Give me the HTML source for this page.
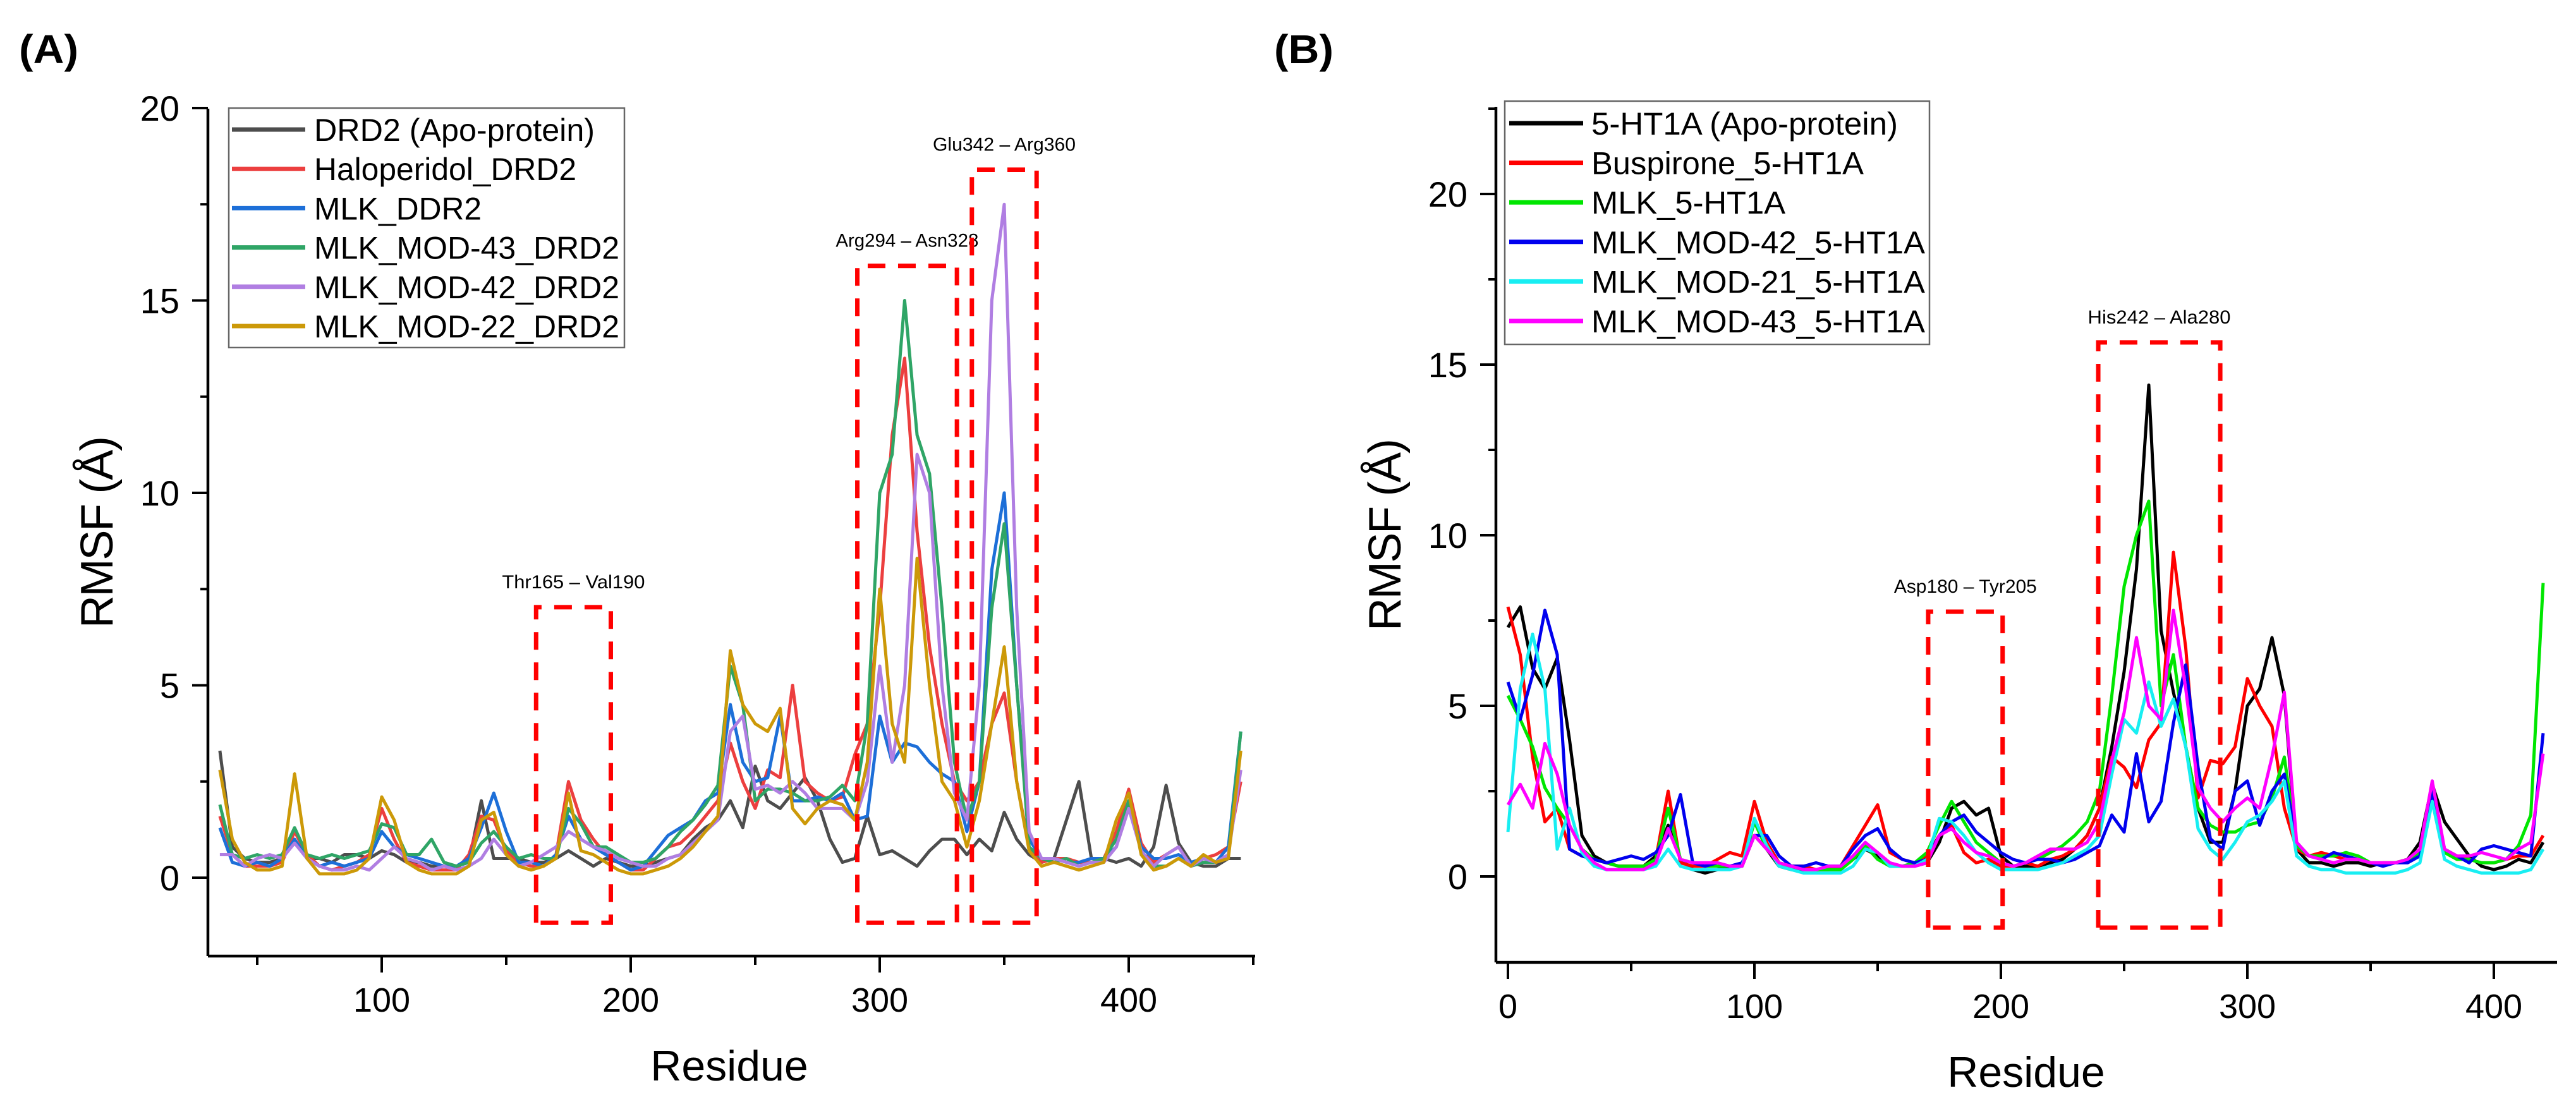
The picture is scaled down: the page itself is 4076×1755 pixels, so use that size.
<!DOCTYPE html>
<html><head><meta charset="utf-8"><title>RMSF plots</title>
<style>
html,body{margin:0;padding:0;background:#fff;}
svg{display:block;font-family:"Liberation Sans",Arial,sans-serif;}
</style></head>
<body>
<svg id="fig" width="4076" height="1755" viewBox="0 0 4076 1755" xmlns="http://www.w3.org/2000/svg">
<rect x="0" y="0" width="4076" height="1755" fill="#fff"/>
<text x="30" y="100" font-size="64" font-weight="bold" textLength="94" lengthAdjust="spacingAndGlyphs">(A)</text>
<text x="2016" y="100" font-size="64" font-weight="bold" textLength="94" lengthAdjust="spacingAndGlyphs">(B)</text>
<g id="gA"></g>
<g id="gB"></g>
</svg>
<script>
// ---------- Panel A data (DRD2) ----------
const resA = [35,40,45,50,55,60,65,70,75,80,85,90,95,100,105,110,115,120,125,130,135,140,145,150,155,160,165,170,175,180,185,190,195,200,205,210,215,220,225,230,235,240,245,250,255,260,265,270,275,280,285,290,295,300,305,310,315,320,325,330,335,340,345,350,355,360,365,370,375,380,385,390,395,400,405,410,415,420,425,430,435,440,445];
const apoDRD2 = [3.3,0.8,0.5,0.4,0.4,0.5,1.0,0.5,0.5,0.4,0.6,0.6,0.5,0.7,0.6,0.4,0.4,0.3,0.3,0.3,0.4,2.0,0.5,0.5,0.5,0.4,0.4,0.5,0.7,0.5,0.3,0.5,0.4,0.3,0.3,0.4,0.5,0.6,1.0,1.3,1.5,2.0,1.3,2.9,2.0,1.8,2.2,2.6,2.0,1.0,0.4,0.5,1.6,0.6,0.7,0.5,0.3,0.7,1.0,1.0,0.6,1.0,0.7,1.7,1.0,0.6,0.4,0.5,1.5,2.5,0.5,0.5,0.4,0.5,0.3,0.8,2.4,0.9,0.4,0.3,0.3,0.5,0.5];
const haloDRD2 = [1.6,0.6,0.3,0.3,0.3,0.4,1.2,0.6,0.3,0.2,0.3,0.4,0.6,1.8,1.0,0.4,0.3,0.2,0.2,0.2,0.6,1.6,1.5,0.7,0.4,0.3,0.3,0.6,2.5,1.5,1.0,0.6,0.4,0.2,0.2,0.5,0.8,0.9,1.2,1.6,2.0,3.5,2.5,1.8,2.8,2.6,5.0,2.5,2.2,2.0,2.1,3.2,4.0,7.0,11.5,13.5,9.0,6.0,4.0,2.5,2.0,2.5,4.0,4.8,2.5,0.8,0.4,0.5,0.5,0.4,0.4,0.5,1.2,2.3,0.9,0.4,0.6,0.8,0.3,0.5,0.6,0.8,2.5];
const mlkDDR2 = [1.3,0.4,0.3,0.4,0.3,0.5,1.0,0.5,0.3,0.4,0.3,0.4,0.5,1.2,0.8,0.6,0.5,0.4,0.3,0.3,0.5,1.3,2.2,1.2,0.4,0.4,0.3,0.6,1.6,1.0,0.8,0.6,0.4,0.2,0.3,0.7,1.1,1.3,1.5,2.0,2.2,4.5,3.0,2.5,2.6,4.2,2.0,2.0,2.1,2.0,2.2,1.5,1.6,4.2,3.0,3.5,3.4,3.0,2.7,2.5,1.2,2.5,8.0,10.0,5.0,1.0,0.5,0.5,0.4,0.4,0.5,0.5,0.8,2.0,0.8,0.5,0.5,0.6,0.4,0.5,0.4,0.8,3.8];
const mod43DRD2 = [1.9,0.6,0.5,0.6,0.5,0.6,1.3,0.6,0.5,0.6,0.5,0.6,0.7,1.4,1.3,0.6,0.6,1.0,0.4,0.3,0.4,0.9,1.2,0.8,0.5,0.6,0.5,0.5,1.8,1.4,0.8,0.8,0.6,0.4,0.4,0.5,0.8,1.2,1.5,1.9,2.4,5.5,4.5,2.0,2.3,2.3,2.2,2.0,2.0,2.1,2.4,2.0,4.0,10.0,11.0,15.0,11.5,10.5,7.0,3.0,1.5,2.5,7.0,9.2,5.0,0.8,0.5,0.4,0.5,0.3,0.4,0.5,1.0,2.0,0.7,0.3,0.3,0.5,0.3,0.4,0.4,0.6,3.8];
const mod42DRD2 = [0.6,0.6,0.3,0.5,0.6,0.5,0.9,0.5,0.3,0.2,0.2,0.3,0.2,0.5,0.8,0.5,0.4,0.2,0.3,0.2,0.3,0.5,1.0,0.6,0.3,0.4,0.6,0.8,1.2,1.0,0.8,0.7,0.5,0.4,0.3,0.3,0.5,0.6,0.9,1.2,1.5,3.8,4.2,2.3,2.4,2.2,2.5,2.2,1.8,1.8,1.8,1.5,2.5,5.5,3.0,5.0,11.0,10.0,5.0,2.2,1.5,5.0,15.0,17.5,7.0,1.2,0.5,0.5,0.4,0.3,0.4,0.4,0.8,1.8,0.7,0.3,0.6,0.8,0.3,0.5,0.4,0.6,2.8];
const mod22DRD2 = [2.8,1.0,0.4,0.2,0.2,0.3,2.7,0.5,0.1,0.1,0.1,0.2,0.5,2.1,1.5,0.4,0.2,0.1,0.1,0.1,0.3,1.5,1.7,0.6,0.3,0.2,0.3,0.5,2.2,0.7,0.6,0.4,0.2,0.1,0.1,0.2,0.3,0.5,0.8,1.2,1.6,5.9,4.5,4.0,3.8,4.4,1.8,1.4,1.8,2.0,1.9,1.5,3.0,7.5,4.0,3.0,8.3,5.0,2.5,2.0,0.8,2.0,4.0,6.0,2.5,0.7,0.3,0.4,0.3,0.2,0.3,0.4,1.5,2.2,0.6,0.2,0.3,0.5,0.3,0.6,0.4,0.5,3.3];
const namesA = ["DRD2 (Apo-protein)","Haloperidol_DRD2","MLK_DDR2","MLK_MOD-43_DRD2","MLK_MOD-42_DRD2","MLK_MOD-22_DRD2"];
const xTicksA = [100,200,300,400];
const xMinorA = [50,150,250,350,450];
const yTicksA = [0,5,10,15,20];
const yMinorA = [2.5,7.5,12.5,17.5];
const regionsA = [["Thr165 – Val190",162,192,7.03],["Arg294 – Asn328",291,331,15.9],["Glu342 – Arg360",337,363,18.4]];

// ---------- Panel B data (5-HT1A) ----------
const resB = [0,5,10,15,20,25,30,35,40,45,50,55,60,65,70,75,80,85,90,95,100,105,110,115,120,125,130,135,140,145,150,155,160,165,170,175,180,185,190,195,200,205,210,215,220,225,230,235,240,245,250,255,260,265,270,275,280,285,290,295,300,305,310,315,320,325,330,335,340,345,350,355,360,365,370,375,380,385,390,395,400,405,410,415,420];
const apoHT = [7.3,7.9,6.1,5.5,6.4,4.0,1.2,0.6,0.4,0.3,0.3,0.3,0.6,1.5,0.5,0.2,0.1,0.2,0.3,0.3,1.2,0.8,0.3,0.2,0.2,0.2,0.2,0.2,0.5,0.8,0.6,0.3,0.3,0.3,0.4,1.0,2.0,2.2,1.8,2.0,0.6,0.3,0.3,0.3,0.4,0.5,0.8,1.2,2.0,3.8,6.0,9.0,14.4,7.2,5.4,3.8,2.0,1.0,1.0,2.5,5.0,5.5,7.0,5.3,0.8,0.4,0.4,0.3,0.4,0.4,0.3,0.4,0.4,0.5,1.0,2.7,1.6,1.1,0.6,0.3,0.2,0.3,0.5,0.4,1.0];
const buspHT = [7.9,6.5,3.5,1.6,2.0,0.8,0.6,0.5,0.4,0.3,0.3,0.3,0.5,2.5,0.4,0.3,0.3,0.5,0.7,0.6,2.2,1.0,0.4,0.3,0.3,0.2,0.2,0.3,0.9,1.5,2.1,0.7,0.5,0.4,0.6,1.2,1.5,0.7,0.4,0.5,0.3,0.3,0.4,0.3,0.5,0.6,0.8,1.2,2.0,3.5,3.2,2.6,4.0,4.5,9.5,6.7,2.3,3.4,3.3,3.8,5.8,5.0,4.4,2.0,0.8,0.6,0.7,0.6,0.5,0.5,0.4,0.4,0.4,0.5,0.7,2.3,0.8,0.6,0.5,0.4,0.4,0.5,0.6,0.6,1.2];
const mlkHT = [5.3,4.6,3.8,2.6,2.0,1.5,0.8,0.5,0.4,0.3,0.3,0.3,0.5,2.0,0.5,0.4,0.3,0.3,0.3,0.3,1.6,0.8,0.4,0.3,0.2,0.2,0.2,0.2,0.5,0.9,0.5,0.3,0.3,0.4,0.7,1.5,2.2,1.6,1.0,0.7,0.4,0.3,0.4,0.5,0.7,0.9,1.2,1.6,2.5,5.3,8.5,10.0,11.0,5.0,6.5,3.8,2.0,1.5,1.3,1.3,1.5,1.6,2.3,3.5,0.9,0.6,0.6,0.6,0.7,0.6,0.4,0.4,0.4,0.5,0.7,2.4,0.7,0.5,0.5,0.4,0.4,0.5,0.9,1.8,8.6];
const mod42HT = [5.7,4.6,5.9,7.8,6.5,0.8,0.6,0.5,0.4,0.5,0.6,0.5,0.7,1.2,2.4,0.4,0.3,0.4,0.3,0.4,1.2,1.2,0.6,0.3,0.3,0.4,0.3,0.3,0.8,1.2,1.4,0.8,0.5,0.4,0.5,1.2,1.6,1.8,1.3,1.0,0.7,0.5,0.4,0.5,0.5,0.4,0.5,0.7,0.9,1.8,1.3,3.6,1.6,2.2,4.5,6.2,3.2,1.1,0.8,2.5,2.8,1.5,2.5,3.0,1.0,0.6,0.5,0.7,0.6,0.5,0.4,0.3,0.4,0.4,0.6,2.5,0.8,0.6,0.4,0.8,0.9,0.8,0.7,0.6,4.2];
const mod21HT = [1.3,5.5,7.1,5.5,0.8,2.0,0.7,0.3,0.2,0.2,0.2,0.2,0.3,0.8,0.3,0.2,0.2,0.2,0.2,0.3,1.7,0.9,0.3,0.2,0.1,0.1,0.1,0.1,0.3,0.8,0.7,0.3,0.3,0.3,0.5,1.7,1.6,1.2,0.7,0.4,0.2,0.2,0.2,0.2,0.3,0.4,0.6,0.8,1.2,3.0,4.6,4.2,5.7,4.4,5.2,3.8,1.4,0.8,0.5,1.0,1.6,1.8,2.2,2.8,0.6,0.3,0.2,0.2,0.1,0.1,0.1,0.1,0.1,0.2,0.4,2.2,0.5,0.3,0.2,0.1,0.1,0.1,0.1,0.2,0.8];
const mod43HT = [2.1,2.7,2.0,3.9,3.0,1.5,0.8,0.4,0.2,0.2,0.2,0.2,0.4,1.4,0.5,0.4,0.4,0.4,0.3,0.3,1.2,0.8,0.4,0.3,0.2,0.2,0.3,0.3,0.6,1.0,0.7,0.4,0.3,0.3,0.4,1.2,1.4,1.0,0.7,0.6,0.4,0.3,0.4,0.6,0.8,0.8,0.8,1.0,1.6,3.4,4.8,7.0,5.0,4.6,7.8,5.5,2.6,2.0,1.6,2.0,2.3,2.0,3.5,5.4,1.0,0.6,0.5,0.4,0.5,0.5,0.4,0.4,0.4,0.5,0.8,2.8,0.8,0.6,0.6,0.7,0.6,0.5,0.8,1.0,3.6];
const namesB = ["5-HT1A (Apo-protein)","Buspirone_5-HT1A","MLK_5-HT1A","MLK_MOD-42_5-HT1A","MLK_MOD-21_5-HT1A","MLK_MOD-43_5-HT1A"];
const xTicksB = [0,100,200,300,400];
const xMinorB = [50,150,250,350];
const yTicksB = [0,5,10,15,20];
const yMinorB = [2.5,7.5,12.5,17.5,22.5];
const regionsB = [["Asp180 – Tyr205",170.5,200.7,7.76],["His242 – Ala280",239.5,289,15.65]];

const NS = "http://www.w3.org/2000/svg";
function mk(parent, tag, attrs, txt){
  const e = document.createElementNS(NS, tag);
  for (const k in attrs) e.setAttribute(k, attrs[k]);
  if (txt !== undefined) e.textContent = txt;
  parent.appendChild(e);
  return e;
}

function drawPanel(g, cfg){
  const X = cfg.X, Y = cfg.Y;
  // data lines
  cfg.series.forEach((vals, i) => {
    let d = "";
    vals.forEach((v, j) => { d += (j ? "L" : "M") + X(cfg.res[j]).toFixed(1) + "," + Y(v).toFixed(1); });
    const p = mk(g, "path", {d: d, fill: "none", stroke: cfg.colors[i], "stroke-width": 5, "stroke-linejoin": "round"});
    
    
  });
  // region boxes
  cfg.regions.forEach(r => {
    const x1 = X(r[1]), x2 = X(r[2]), yt = Y(r[3]), yb = Y(cfg.boxBottom);
    const b = mk(g, "path", {d: `M${x1},${yb}L${x1},${yt}L${x2},${yt}L${x2},${yb}L${x1},${yb}`, fill: "none", stroke: "#ff0000", "stroke-width": 7, "stroke-dasharray": "28 20"});
    
    
    const t = mk(g, "text", {x: (x1 + x2) / 2, y: yt - 30, "font-size": 30, "text-anchor": "middle", textLength: 226, lengthAdjust: "spacingAndGlyphs"}, r[0]);
    
    
  });
  // axes
  const ax = mk(g, "path", {d: `M${cfg.ax0},${cfg.ay1}L${cfg.ax1},${cfg.ay1}M${cfg.ax0},${cfg.ay1}L${cfg.ax0},${cfg.ay0}`, fill: "none", stroke: "#000", "stroke-width": 4.5});
  
  
  cfg.xTicks.forEach(v => {
    const tk = mk(g, "line", {x1: X(v), x2: X(v), y1: cfg.ay1, y2: cfg.ay1 + 26, stroke: "#000", "stroke-width": 4});
    
    
    const tl = mk(g, "text", {x: X(v), y: cfg.ay1 + 88, "font-size": 54, "text-anchor": "middle"}, String(v));
    
    
  });
  cfg.xMinor.forEach(v => {
    const tk = mk(g, "line", {x1: X(v), x2: X(v), y1: cfg.ay1, y2: cfg.ay1 + 14, stroke: "#000", "stroke-width": 4});
    
    
  });
  cfg.yTicks.forEach(v => {
    const tk = mk(g, "line", {x1: cfg.ax0 - 25, x2: cfg.ax0, y1: Y(v), y2: Y(v), stroke: "#000", "stroke-width": 4});
    
    
    const tl = mk(g, "text", {x: cfg.ax0 - 45, y: Y(v) + 20, "font-size": 56, "text-anchor": "end"}, String(v));
    
    
  });
  cfg.yMinor.forEach(v => {
    const tk = mk(g, "line", {x1: cfg.ax0 - 12, x2: cfg.ax0, y1: Y(v), y2: Y(v), stroke: "#000", "stroke-width": 4});
    
    
  });
  const xt = mk(g, "text", {x: cfg.xTitleX, y: cfg.xTitleY, "font-size": 68, "text-anchor": "middle"}, "Residue");
  
  
  const yt = mk(g, "text", {x: 0, y: 0, "font-size": 72, "text-anchor": "middle", textLength: 304, lengthAdjust: "spacing", transform: `translate(${cfg.yTitleX},${cfg.yTitleY}) rotate(-90)`}, "RMSF (Å)");
  
  
  // legend
  const L = cfg.legend;
  const lg = mk(g, "g", {});
  
  
  mk(lg, "rect", {x: L.x, y: L.y, width: L.w, height: L.h, fill: "#fff", stroke: "#666", "stroke-width": 2.5});
  cfg.names.forEach((n, i) => {
    const cy = L.y0 + i * L.dy;
    const ent = mk(lg, "g", {});
    
    
    mk(ent, "line", {x1: L.lx0, x2: L.lx1, y1: cy, y2: cy, stroke: cfg.colors[i], "stroke-width": 7});
    mk(ent, "text", {x: L.tx, y: cy + 18, "font-size": 50, textLength: L.tw[i], lengthAdjust: "spacingAndGlyphs"}, n);
  });
}

drawPanel(document.getElementById("gA"), {
  X: r => 210 + 3.94 * r, Y: v => 1389 - 60.9 * v,
  res: resA, series: [apoDRD2, haloDRD2, mlkDDR2, mod43DRD2, mod42DRD2, mod22DRD2],
  colors: ["#4d4d4d", "#ec3f3f", "#1d6fd8", "#2fa566", "#b07ee2", "#cc9908"],
  names: namesA, regions: regionsA, boxBottom: -1.17,
  xTicks: xTicksA, xMinor: xMinorA, yTicks: yTicksA, yMinor: yMinorA,
  ax0: 329, ax1: 1986, ay0: 172, ay1: 1513,
  xTitleX: 1154, xTitleY: 1710, yTitleX: 178, yTitleY: 842,
  legend: {x: 362, y: 171, w: 626, h: 379, y0: 205, dy: 62.2, lx0: 367, lx1: 483, tx: 497, tw: [444, 415, 265, 483, 483, 483]}
});
drawPanel(document.getElementById("gB"), {
  X: r => 2386 + 3.90 * r, Y: v => 1387 - 54 * v,
  res: resB, series: [apoHT, buspHT, mlkHT, mod42HT, mod21HT, mod43HT],
  colors: ["#000000", "#ff0000", "#00e600", "#0000ee", "#18eef2", "#ff00ff"],
  names: namesB, regions: regionsB, boxBottom: -1.5,
  xTicks: xTicksB, xMinor: xMinorB, yTicks: yTicksB, yMinor: yMinorB,
  ax0: 2367, ax1: 4046, ay0: 169, ay1: 1523,
  xTitleX: 3206, xTitleY: 1720, yTitleX: 2216, yTitleY: 846,
  legend: {x: 2381, y: 160, w: 672, h: 385, y0: 195, dy: 62.6, lx0: 2388, lx1: 2505, tx: 2518, tw: [485, 431, 307, 528, 528, 528]}
});
</script>
</body></html>
